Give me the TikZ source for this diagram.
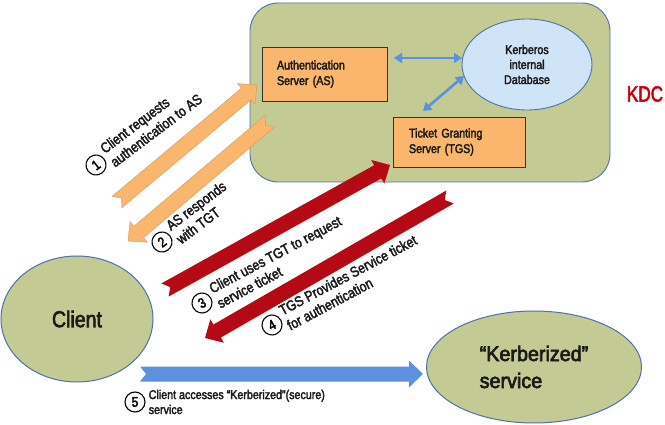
\documentclass[tikz,border=0pt]{standalone}
\usepackage{fontspec}
\setmainfont[FakeStretch=0.85, FakeBold=2.5]{Liberation Sans}
\newfontfamily\kdcfont[FakeStretch=0.78, FakeBold=2.5]{Liberation Sans}
\newfontfamily\svcfont[FakeStretch=0.94, FakeBold=3]{Liberation Sans}
\usetikzlibrary{calc,arrows.meta,shapes.geometric}
\definecolor{kdcgreen}{HTML}{C3CA94}
\definecolor{boxorange}{HTML}{F9B66C}
\definecolor{dbblue}{HTML}{CFE4F6}
\definecolor{edgeblue}{HTML}{4F72A8}
\definecolor{arrowred}{HTML}{B50A14}
\definecolor{arrowblue}{HTML}{5B91DE}
\definecolor{kdcred}{HTML}{C8000A}
\definecolor{textdark}{HTML}{1A1A1A}
\newcommand\kribbon[3]{%
  \coordinate (rbH) at ($(#3)!14pt!(#2)$);
  \path[#1] ($(#2)!7.5pt!90:(#3)$) -- ($(#2)!6pt!(#3)$) -- ($(#2)!7.5pt!-90:(#3)$)
    -- ($(rbH)!7.5pt!-90:(#3)$) -- ($(rbH)!13.5pt!-90:(#3)$) -- (#3)
    -- ($(rbH)!13.5pt!90:(#3)$) -- ($(rbH)!7.5pt!90:(#3)$) -- cycle;}
\tikzset{
  kdcbox/.style={draw=edgeblue, line width=0.9pt, fill=kdcgreen, rounded corners=28pt, inner sep=0pt},
  srvbox/.style={draw=black!80, line width=0.8pt, fill=boxorange, align=left, text=textdark,
    font=\fontsize{12.6}{15.5}\selectfont, inner ysep=0pt},
  dbnode/.style={ellipse, draw=edgeblue, line width=0.9pt, fill=dbblue, inner sep=0pt, align=center,
    text=textdark, font=\fontsize{12.6}{15}\selectfont},
  actor/.style={ellipse, draw=edgeblue, line width=1pt, fill=kdcgreen, inner sep=0pt, text=textdark},
  numc/.style={circle, draw=black, line width=1.1pt, inner sep=0pt, minimum size=20pt, fill=white,
    font=\fontsize{14}{14}\selectfont},
  lbl/.style={align=left, font=\fontsize{12.6}{15}\selectfont, inner xsep=3pt, inner ysep=0pt, text=textdark},
  rlbl/.style={lbl, font=\fontsize{14.5}{17}\selectfont},
  orangeribbon/.style={fill=boxorange, draw=boxorange!85!black, line width=0.4pt},
  redribbon/.style={fill=arrowred},
  blueribbon/.style={fill=arrowblue},
  dbl/.style={draw=arrowblue, line width=2.6pt,
    {Triangle[length=8pt,width=10pt]}-{Triangle[length=8pt,width=10pt]}},
}
\begin{document}
\begin{tikzpicture}[x=1pt,y=-1pt]
\useasboundingbox[fill=white] (0,0) rectangle (665,425);

% KDC container
\node[kdcbox, minimum width=360pt, minimum height=179pt] (kdc) at (430,92.5) {};
\node[font=\kdcfont\fontsize{22}{24}\selectfont, text=kdcred, inner sep=0pt] (kdclbl) at (645,94) {KDC};

% servers and database
\node[srvbox, minimum width=125pt, minimum height=54pt, text width=95pt, inner xsep=15pt] (as) at (324.5,74)
  {Authentication\\Server (AS)};
\node[srvbox, minimum width=132pt, minimum height=50pt, text width=100pt, inner xsep=16pt] (tgs) at (459,142)
  {Ticket Granting\\Server (TGS)};
\node[dbnode, minimum width=130pt, minimum height=91pt] (db) at (527,64.5)
  {Kerberos\\internal\\Database};

\coordinate (d1) at (394,58);
\coordinate (d2) at (462,58);
\coordinate (d3) at (464,76);
\coordinate (d4) at (423,111);
\draw[dbl] (d1) -- (d2);
\draw[dbl] (d3) -- (d4);

% client and service
\node[actor, minimum width=152pt, minimum height=126pt, font=\fontsize{23}{25}\selectfont] (client) at (77,319) {Client};
\node[actor, minimum width=215pt, minimum height=112pt, align=left, font=\svcfont\fontsize{21}{27}\selectfont] (svc) at (534,367)
  {“Kerberized”\\service};

% flow arrows
\coordinate (a1s) at (117,202);
\coordinate (a1e) at (257,85);
\coordinate (a2s) at (270,121);
\coordinate (a2e) at (128,241);
\coordinate (a3s) at (165,290);
\coordinate (a3e) at (390,165);
\coordinate (a4s) at (450,197);
\coordinate (a4e) at (205,338);
\coordinate (a5s) at (140,374);
\coordinate (a5e) at (423,374);
\kribbon{orangeribbon}{a1s}{a1e}
\kribbon{orangeribbon}{a2s}{a2e}
\kribbon{redribbon}{a3s}{a3e}
\kribbon{redribbon}{a4s}{a4e}
\kribbon{blueribbon}{a5s}{a5e}

% step labels
\node[numc, rotate=37] (n1) at (96,165) {1};
\node[rlbl, rotate=37, anchor=west] (t1) at (n1.east) {Client requests\\authentication to AS};
\node[numc, rotate=37] (n2) at (162,242) {2};
\node[rlbl, rotate=37, anchor=west] (t2) at (n2.east) {AS responds\\with TGT};
\node[numc, rotate=28] (n3) at (202,303) {3};
\node[rlbl, rotate=28, anchor=west] (t3) at (n3.east) {Client uses TGT to request\\service ticket};
\node[numc, rotate=28] (n4) at (272,325) {4};
\node[rlbl, rotate=28, anchor=west] (t4) at (n4.east) {TGS Provides Service ticket\\for authentication};
\node[numc] (n5) at (135,402) {5};
\node[lbl, anchor=west] (t5) at (n5.east) {Client accesses “Kerberized”(secure)\\service};
\end{tikzpicture}
\end{document}
